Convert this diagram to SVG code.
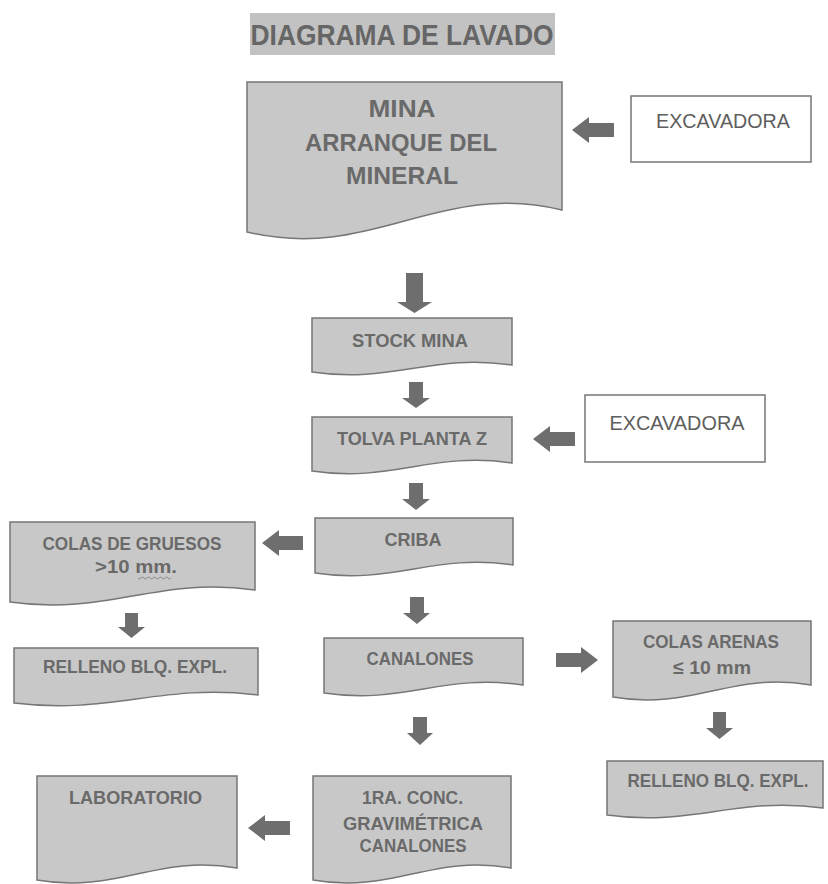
<svg xmlns="http://www.w3.org/2000/svg" width="828" height="884" viewBox="0 0 828 884">
<style>
.doc{fill:#c8c8c8;stroke:#767676;stroke-width:1.5}
.wbox{fill:#fff;stroke:#767676;stroke-width:1.5}
.lbl{font-family:"Liberation Sans",Arial,sans-serif;font-weight:bold;font-size:19px;fill:#6a6a6a;text-anchor:middle}
.big{font-size:24px}
.exc{font-family:"Liberation Sans",Arial,sans-serif;font-size:21px;fill:#5e5e5e;text-anchor:middle}
.arr{fill:#6e6e6e}
</style>
<rect width="828" height="884" fill="#fff"/>
<g id="title">
<rect x="250" y="13" width="305" height="42" fill="#c2c2c2"/>
<text x="402" y="45" class="lbl" style="font-size:30px;fill:#666" textLength="303" lengthAdjust="spacingAndGlyphs">DIAGRAMA DE LAVADO</text>
</g>
<g id="mina">
<path class="doc" d="M247,82 H562 V210 C436,180 373,262 247,232 Z"/>
<text x="402" y="117" class="lbl big" textLength="67" lengthAdjust="spacingAndGlyphs">MINA</text>
<text x="401" y="151" class="lbl big" textLength="192" lengthAdjust="spacingAndGlyphs">ARRANQUE DEL</text>
<text x="402" y="184" class="lbl big" textLength="112" lengthAdjust="spacingAndGlyphs">MINERAL</text>
</g>
<g id="excavadora1">
<rect class="wbox" x="631" y="96" width="180" height="66"/>
<text x="723" y="128" class="exc" textLength="134" lengthAdjust="spacingAndGlyphs">EXCAVADORA</text>
</g>
<g id="stock">
<path class="doc" d="M312,318 H512 V365 C432,353 392,384 312,372 Z"/>
<text x="410" y="347" class="lbl" textLength="116" lengthAdjust="spacingAndGlyphs">STOCK MINA</text>
</g>
<g id="tolva">
<path class="doc" d="M312,417 H512 V463 C432,451 392,483 312,471 Z"/>
<text x="412" y="445" class="lbl" textLength="150" lengthAdjust="spacingAndGlyphs">TOLVA PLANTA Z</text>
</g>
<g id="excavadora2">
<rect class="wbox" x="585" y="395" width="180" height="67"/>
<text x="677" y="430" class="exc" textLength="135" lengthAdjust="spacingAndGlyphs">EXCAVADORA</text>
</g>
<g id="criba">
<path class="doc" d="M315,518 H513 V565 C434,553 394,585 315,573 Z"/>
<text x="413" y="546" class="lbl" textLength="57" lengthAdjust="spacingAndGlyphs">CRIBA</text>
</g>
<g id="gruesos">
<path class="doc" d="M10,522 H255 V590 C157,576 108,616 10,602 Z"/>
<text x="132" y="550" class="lbl" textLength="179" lengthAdjust="spacingAndGlyphs">COLAS DE GRUESOS</text>
<text x="136" y="573" class="lbl" textLength="82" lengthAdjust="spacingAndGlyphs">&gt;10 mm.</text>
<path d="M138,578 q1.5,2 3,0 t3,0 t3,0 t3,0 t3,0 t3,0 t3,0 t3,0 t3,0 t3,0 t3,0" fill="none" stroke="#8a8a8a" stroke-width="1"/>
</g>
<g id="relleno1">
<path class="doc" d="M14,648 H258 V695 C160,683 112,715 14,703 Z"/>
<text x="135" y="673" class="lbl" textLength="184" lengthAdjust="spacingAndGlyphs">RELLENO BLQ. EXPL.</text>
</g>
<g id="canalones">
<path class="doc" d="M324,638 H523 V685 C443,673 404,705 324,693 Z"/>
<text x="420" y="665" class="lbl" textLength="107" lengthAdjust="spacingAndGlyphs">CANALONES</text>
</g>
<g id="arenas">
<path class="doc" d="M613,621 H811 V685 C732,671 692,711 613,697 Z"/>
<text x="711" y="648" class="lbl" textLength="136" lengthAdjust="spacingAndGlyphs">COLAS ARENAS</text>
<text x="712" y="674" class="lbl" textLength="78" lengthAdjust="spacingAndGlyphs">≤ 10 mm</text>
</g>
<g id="relleno2">
<path class="doc" d="M607,761 H823 V808 C737,796 693,827 607,815 Z"/>
<text x="718" y="787" class="lbl" textLength="181" lengthAdjust="spacingAndGlyphs">RELLENO BLQ. EXPL.</text>
</g>
<g id="conc">
<path class="doc" d="M313,776 H511 V868 C432,854 392,894 313,880 Z"/>
<text x="412.5" y="804" class="lbl" textLength="101" lengthAdjust="spacingAndGlyphs">1RA. CONC.</text>
<text x="413" y="830" class="lbl" textLength="140" lengthAdjust="spacingAndGlyphs">GRAVIMÉTRICA</text>
<text x="413" y="852" class="lbl" textLength="107" lengthAdjust="spacingAndGlyphs">CANALONES</text>
</g>
<g id="laboratorio">
<path class="doc" d="M37,776 H237 V868 C157,854 117,894 37,880 Z"/>
<text x="135.5" y="804" class="lbl" textLength="133" lengthAdjust="spacingAndGlyphs">LABORATORIO</text>
</g>
<g id="connectors" class="arr">
<path d="M406,273 H423 V302 H432 L414.5,313 L397,302 H406 Z"/>
<path d="M409,382 H423 V398 H430 L416,408 L402,398 H409 Z"/>
<path d="M409,483 H423 V499 H430 L416,510 L402,499 H409 Z"/>
<path d="M410,597 H424 V613 H430 L417,624 L403,613 H410 Z"/>
<path d="M413,717 H427 V733 H433 L420,745 L407,733 H413 Z"/>
<path d="M125,613 H138 V627 H145 L131.5,638 L118,627 H125 Z"/>
<path d="M713,712 H726 V728 H733 L719.5,739 L706,728 H713 Z"/>
<path d="M614,123 V137 H589 V143 L572,130 L589,117 V123 Z"/>
<path d="M575,432 V446 H550 V452 L533,439 L550,426 V432 Z"/>
<path d="M303,536 V550 H279 V556 L262,543 L279,530 V536 Z"/>
<path d="M290,821 V835 H265 V841 L248,828 L265,815 V821 Z"/>
<path d="M556,653 V667 H581 V673 L598,660 L581,647 V653 Z"/>
</g>
</svg>
